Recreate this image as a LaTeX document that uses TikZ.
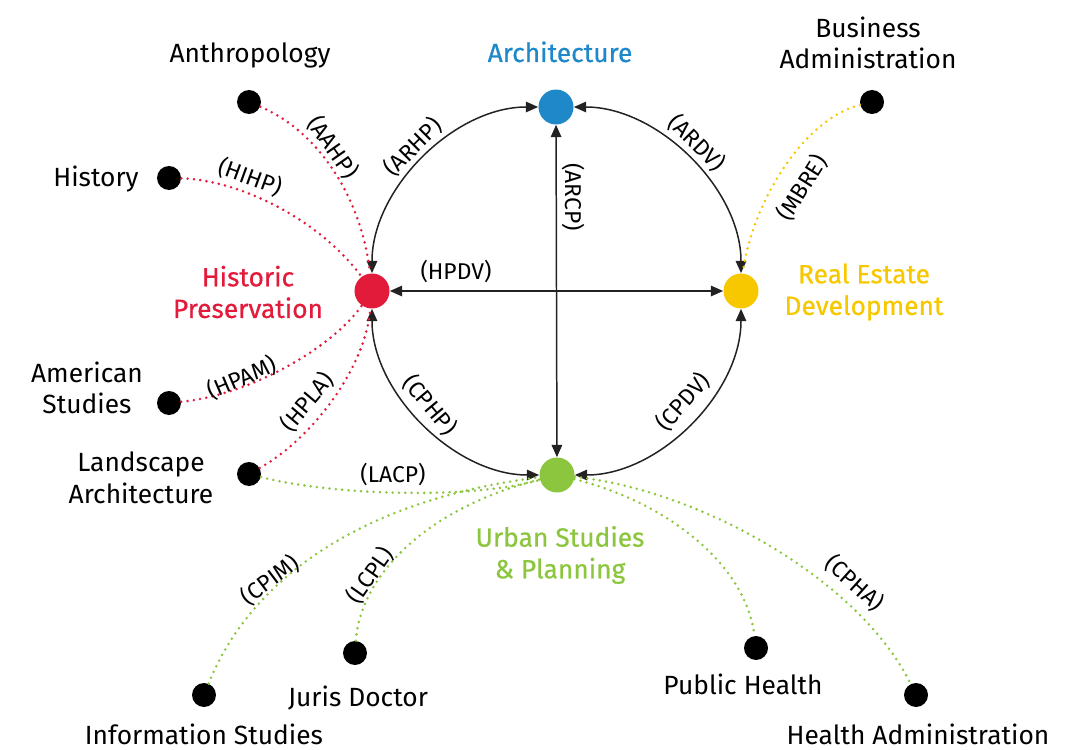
\documentclass[tikz,border=0pt]{standalone}
\usepackage{fontspec}
\setmainfont{Fira Sans}
\newfontfamily\hubfont[FakeBold=0.6]{Fira Sans}
\usetikzlibrary{arrows.meta}
\definecolor{archblue}{HTML}{1E88C8}
\definecolor{hpred}{HTML}{E31B3B}
\definecolor{reyellow}{HTML}{F7C800}
\definecolor{upgreen}{HTML}{8CC63F}
\definecolor{linegray}{HTML}{222222}
\begin{document}
\begin{tikzpicture}[x=0.02cm,y=-0.02cm,
  hubdot/.style={circle,minimum size=0.7cm,inner sep=0pt,fill=#1},
  blackdot/.style={circle,minimum size=0.48cm,inner sep=0pt,fill=black},
  disc/.style={font=\fontsize{15}{18}\selectfont,align=center,inner sep=0pt},
  hubdisc/.style={font=\hubfont\fontsize{15}{18}\selectfont,align=center,inner sep=0pt,text=#1},
  elab/.style={font=\fontsize{13}{15}\selectfont,inner sep=0pt},
  link/.style={draw=linegray,line width=0.85pt,{Triangle[length=7pt,width=6pt]}-{Triangle[length=7pt,width=6pt]}},
  dotlink/.style={draw=#1,line width=1.6pt,line cap=round,dash pattern=on 0pt off 3.6pt}]
\useasboundingbox (0,0) rectangle (1082,750);

% hubs
\node[hubdot=archblue] (arch) at (556,107) {};
\node[hubdot=hpred] (hp) at (372,291) {};
\node[hubdot=reyellow] (re) at (741,291) {};
\node[hubdot=upgreen] (urban) at (557,475) {};

% outer dots
\node[blackdot] (anth) at (249,102) {};
\node[blackdot] (hist) at (169,178) {};
\node[blackdot] (amer) at (169,403) {};
\node[blackdot] (land) at (249,474) {};
\node[blackdot] (bus) at (872,102) {};
\node[blackdot] (info) at (204,695) {};
\node[blackdot] (juris) at (355,653) {};
\node[blackdot] (pub) at (756,648) {};
\node[blackdot] (hadm) at (916,695) {};

% names
\node[disc,anchor=base] (tanth) at (250,63) {Anthropology};
\node[hubdisc=archblue,anchor=base] (tarch) at (560,62) {Architecture};
\node[disc] (tbus) at (868,43) {Business\\Administration};
\node[disc,anchor=base] (thist) at (96,186) {History};
\node[hubdisc=hpred] (thp) at (248,292) {Historic\\Preservation};
\node[hubdisc=reyellow] (tre) at (864,292) {Real Estate\\Development};
\node[disc] (tamer) at (87,388) {American\\Studies};
\node[disc] (tland) at (141,478) {Landscape\\Architecture};
\node[hubdisc=upgreen] (turban) at (560,555) {Urban Studies\\\& Planning};
\node[disc,anchor=base] (tinfo) at (204,744) {Information Studies};
\node[disc,anchor=base] (tjuris) at (358,706) {Juris Doctor};
\node[disc,anchor=base] (tpub) at (743,694) {Public Health};
\node[disc,anchor=base] (thadm) at (918,744) {Health Administration};

% circle arcs and cross
\draw[link] (hp) .. controls (372,189) and (454,107) .. (arch);
\draw[link] (arch) .. controls (658,107) and (741,189) .. (re);
\draw[link] (re) .. controls (741,393) and (659,475) .. (urban);
\draw[link] (urban) .. controls (455,475) and (372,393) .. (hp);
\draw[link] (hp) -- (re);
\draw[link] (arch) -- (urban);

% dotted connectors
\draw[dotlink=hpred] (anth) .. controls (320,132) and (362,200) .. (hp);
\draw[dotlink=hpred] (hist) .. controls (240,180) and (320,220) .. (hp);
\draw[dotlink=hpred] (amer) .. controls (250,395) and (332,348) .. (hp);
\draw[dotlink=hpred] (land) .. controls (310,440) and (365,370) .. (hp);
\draw[dotlink=reyellow] (bus) .. controls (800,120) and (750,210) .. (re);
\draw[dotlink=upgreen] (land) .. controls (330,495) and (470,500) .. (urban);
\draw[dotlink=upgreen] (info) .. controls (250,580) and (360,500) .. (urban);
\draw[dotlink=upgreen] (juris) .. controls (360,580) and (420,510) .. (urban);
\draw[dotlink=upgreen] (urban) .. controls (660,500) and (745,560) .. (pub);
\draw[dotlink=upgreen] (urban) .. controls (700,490) and (860,580) .. (hadm);

% connector labels
\node[elab,rotate=-55] (lAAHP) at (333,147) {(AAHP)};
\node[elab,rotate=-20] (lHIHP) at (250,177) {(HIHP)};
\node[elab,rotate=23] (lHPAM) at (242,378) {(HPAM)};
\node[elab,rotate=50] (lHPLA) at (307,402) {(HPLA)};
\node[elab] (lLACP) at (393,475) {(LACP)};
\node[elab,rotate=37] (lCPIM) at (270,580) {(CPIM)};
\node[elab,rotate=55] (lLCPL) at (370,575) {(LCPL)};
\node[elab,rotate=-42] (lCPHA) at (855,583) {(CPHA)};
\node[elab,rotate=58] (lMBRE) at (802,188) {(MBRE)};
\node[elab,rotate=45] (lARHP) at (413,147) {(ARHP)};
\node[elab,rotate=-45] (lARDV) at (697,143) {(ARDV)};
\node[elab,rotate=-90] (lARCP) at (573,197) {(ARCP)};
\node[elab] (lHPDV) at (456,272) {(HPDV)};
\node[elab,rotate=-50] (lCPHP) at (430,405) {(CPHP)};
\node[elab,rotate=48] (lCPDV) at (683,402) {(CPDV)};
\end{tikzpicture}
\end{document}
